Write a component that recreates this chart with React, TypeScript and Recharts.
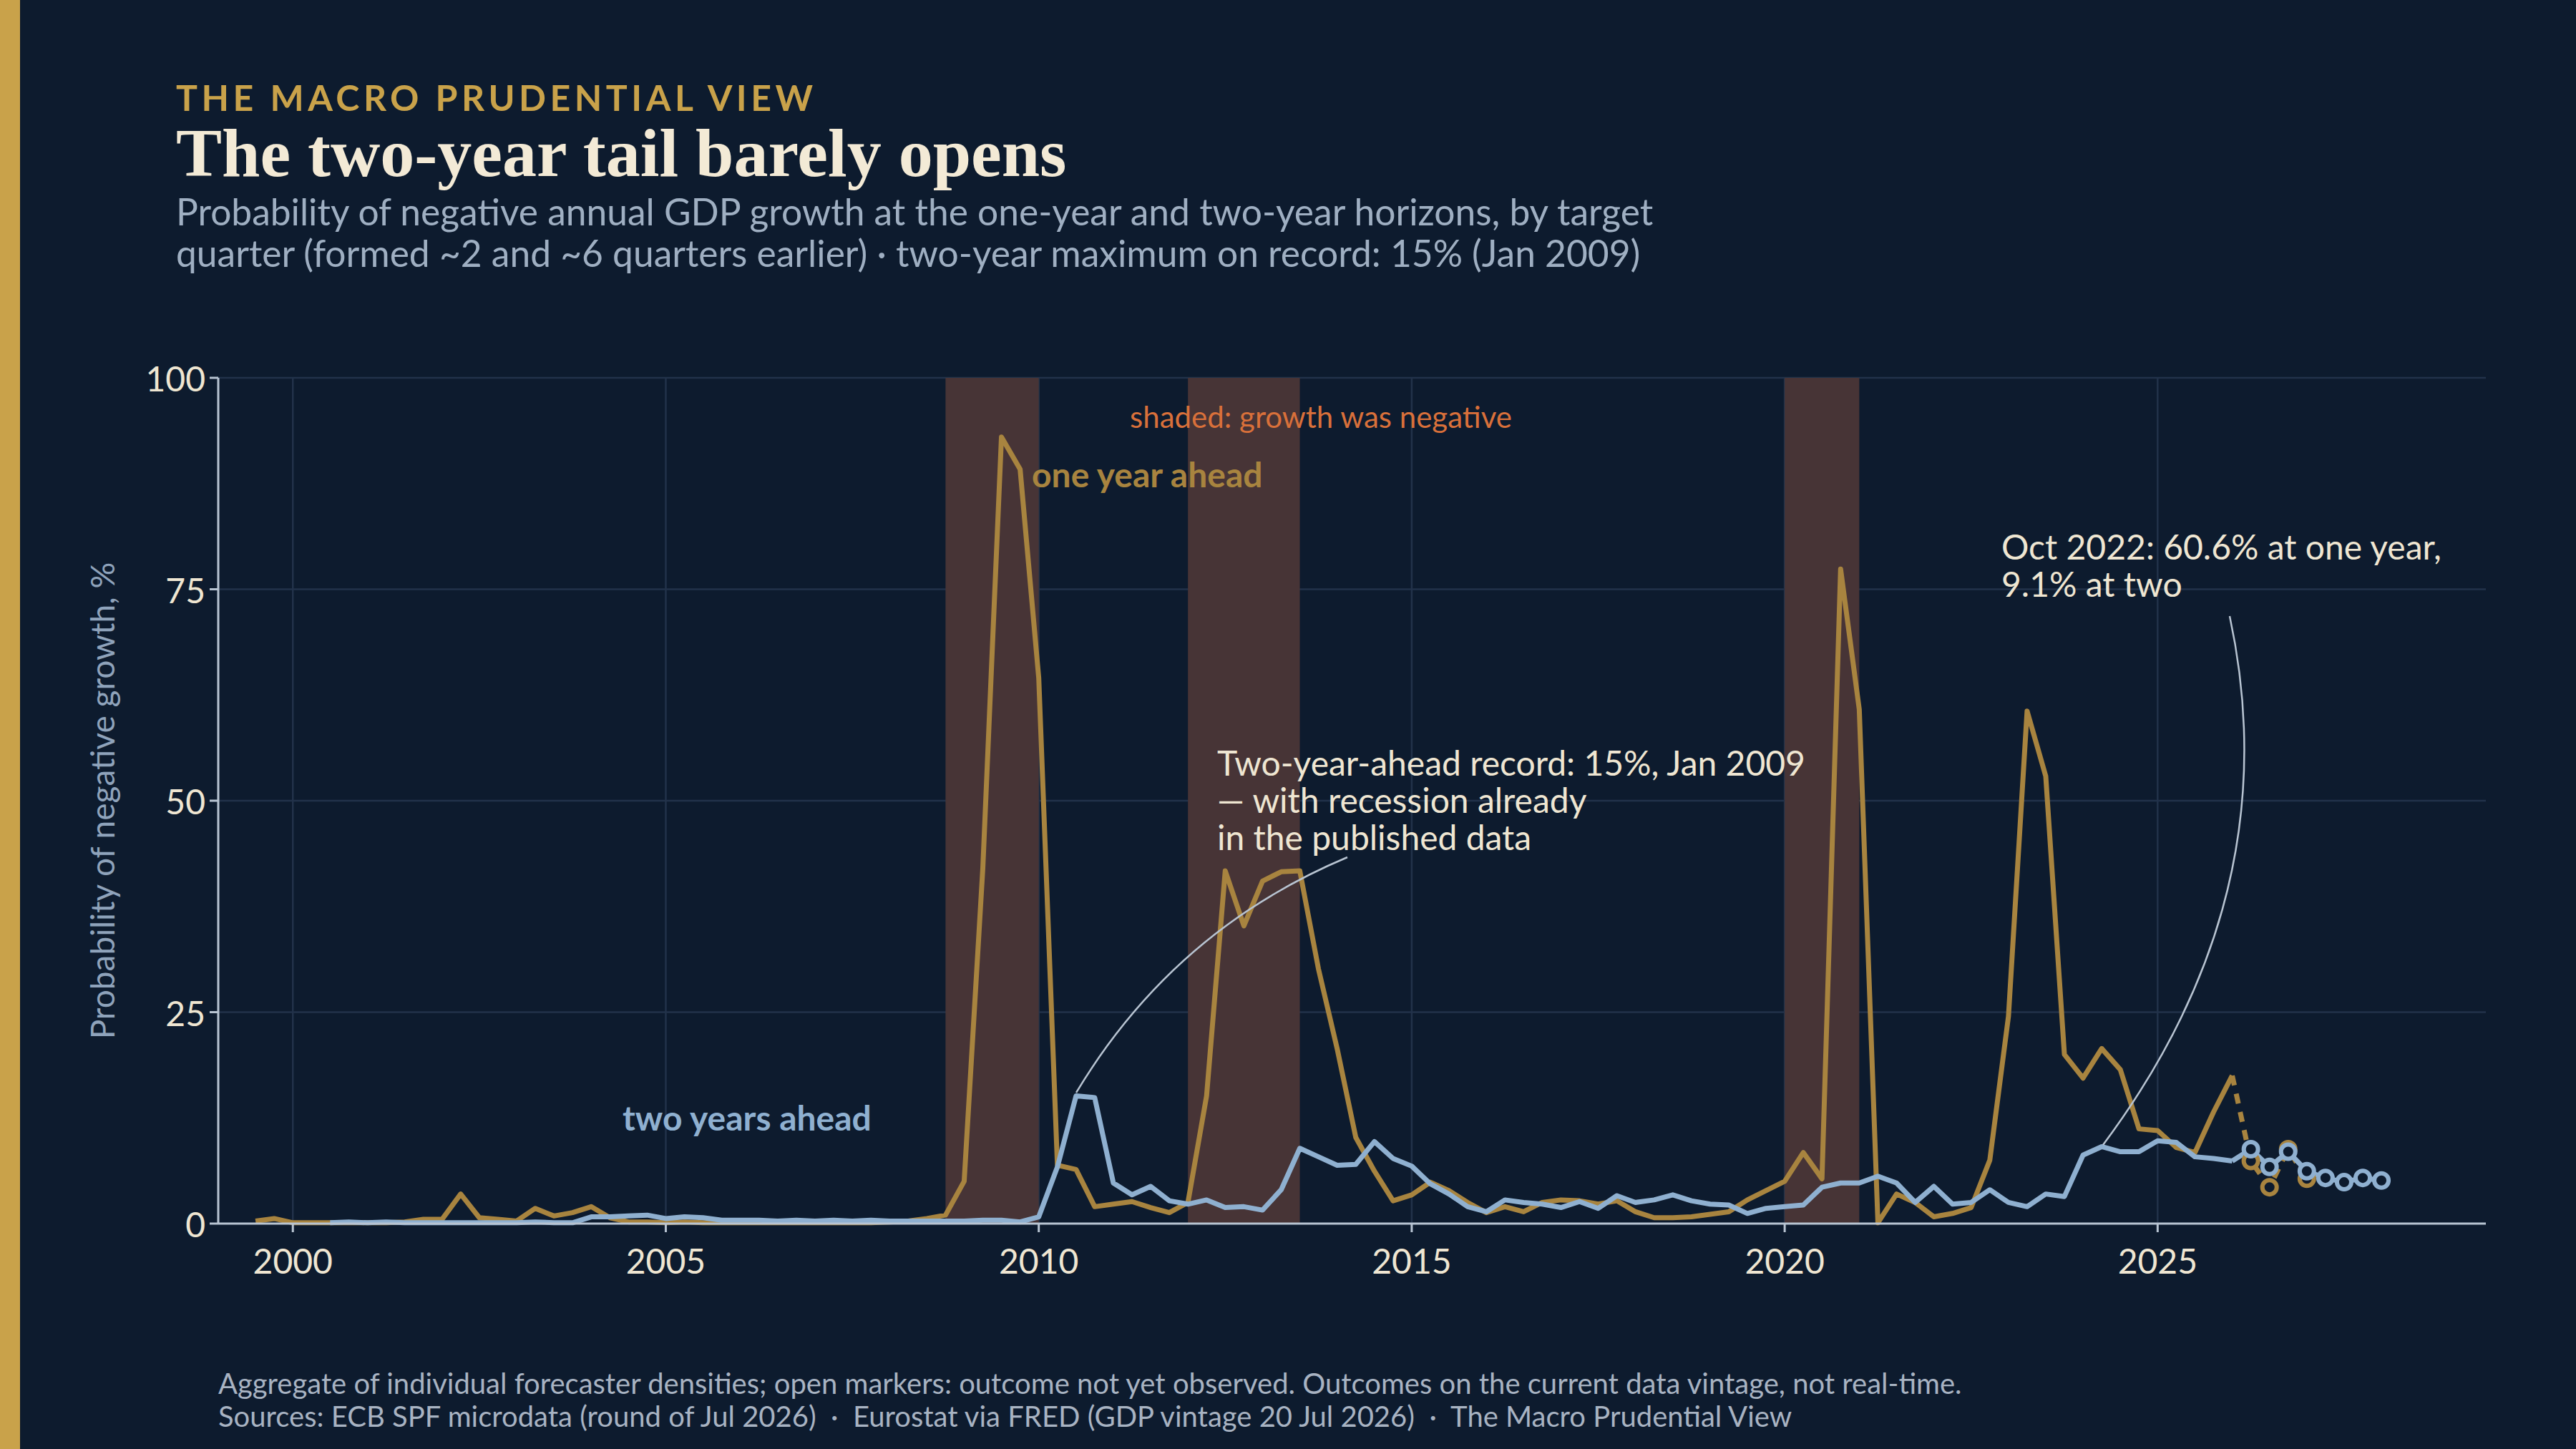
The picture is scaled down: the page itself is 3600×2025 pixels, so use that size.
import React from "react";
import { LineChart, Line, XAxis, YAxis, CartesianGrid, ReferenceArea } from "recharts";

const years = [1999,2000,2001,2002,2003,2004,2005,2006,2007,2008,2009,2010,2011,2012,2013,2014,2015,2016,2017,2018,2019,2020,2021,2022,2023,2024,2025,2026,2027,2028];
const quarterOffsets = [0, 0.25, 0.5, 0.75];

// one year ahead (observed), rows per year Q1..Q4
const oneYearObs: (number | null)[][] = [
  [null,null,0.3,0.6],[0.1,0.1,0.1,0.1],[0.1,0.1,0.2,0.5],[0.5,3.5,0.7,0.5],[0.3,1.8,0.9,1.3],
  [2.0,0.7,0.2,0.2],[0.1,0.2,0.1,0.1],[0.1,0.1,0.1,0.1],[0.1,0.1,0.1,0.1],[0.2,0.3,0.6,1.0],
  [5,42,93,89.2],[64.5,6.9,6.4,2.0],[2.3,2.6,1.9,1.3],[2.5,15.1,41.7,35.2],[40.5,41.6,41.7,30.1],
  [20.7,10.2,6.2,2.7],[3.4,4.9,3.9,2.5],[1.3,2.0,1.4,2.5],[2.8,2.7,2.3,2.7],[1.4,0.7,0.7,0.8],
  [1.1,1.4,2.8,3.9],[5.0,8.4,5.3,77.4],[60.8,0.1,3.5,2.5],[0.8,1.2,1.9,7.5],[24.5,60.6,52.9,20],
  [17.2,20.7,18.2,11.2],[11,9,8.4,13.2],[17.5,null,null,null],[null,null,null,null],[null,null,null,null],
];
// one year ahead, outcome not yet observed
const oneYearFcst: (number | null)[][] = years.map((y) =>
  y === 2026 ? [17.5,7.4,4.3,8.8] : y === 2027 ? [5.3,null,null,null] : [null,null,null,null]
);
// two years ahead (observed)
const twoYearObs: (number | null)[][] = [
  [null,null,null,null],[null,null,0.1,0.2],[0.1,0.2,0.1,0.1],[0.1,0.1,0.1,0.1],[0.1,0.2,0.1,0.1],
  [0.8,0.8,0.9,1.0],[0.6,0.8,0.7,0.4],[0.4,0.4,0.3,0.4],[0.3,0.4,0.3,0.4],[0.3,0.3,0.3,0.3],
  [0.3,0.4,0.4,0.2],[0.8,6.7,15.1,14.9],[4.8,3.4,4.4,2.7],[2.3,2.8,1.9,2.0],[1.6,4.0,8.9,7.9],
  [6.9,7.0,9.7,7.7],[6.8,4.7,3.5,2.0],[1.4,2.8,2.5,2.3],[1.9,2.6,1.8,3.3],[2.5,2.8,3.4,2.7],
  [2.3,2.2,1.2,1.8],[2.0,2.2,4.3,4.8],[4.8,5.6,4.8,2.5],[4.4,2.3,2.5,4.0],[2.5,2.0,3.5,3.2],
  [8.1,9.1,8.5,8.5],[9.8,9.6,7.9,7.7],[7.4,null,null,null],[null,null,null,null],[null,null,null,null],
];
const twoYearFcst: (number | null)[][] = years.map((y) =>
  y === 2026 ? [7.4,8.8,6.7,8.5] : y === 2027 ? [6.2,5.4,4.9,5.4] : y === 2028 ? [5.1,null,null,null] : [null,null,null,null]
);

const recessions = [[2008.75, 2010.0], [2012.0, 2013.5], [2020.0, 2021.0]];
const xTicks = [2000, 2005, 2010, 2015, 2020, 2025];
const yTicks = [0, 25, 50, 75, 100];

const data: any[] = [];
years.forEach((y, yi) => {
  quarterOffsets.forEach((q, qi) => {
    const row = {
      t: y + q,
      one: oneYearObs[yi][qi],
      oneF: oneYearFcst[yi][qi],
      two: twoYearObs[yi][qi],
      twoF: twoYearFcst[yi][qi],
    };
    if (row.one != null || row.oneF != null || row.two != null || row.twoF != null) data.push(row);
  });
});

const BG = "#0d1b2e";
const GOLD = "#a8843f";
const BLUE = "#8fb0d0";
const CREAM = "#efe6d2";
const FONT = "Lato, 'Noto Sans', sans-serif";

const openDot = (color: string) => (p: any) => {
  if (p.payload.t === 2026 || p.value == null) return <g key={p.key} />;
  return <circle key={p.key} cx={p.cx} cy={p.cy} r={10} fill={BG} stroke={color} strokeWidth={6} />;
};

const Annotations = () => (
  <svg width={3600} height={2025} style={{ position: "absolute", left: 0, top: 0, pointerEvents: "none", fontFamily: FONT }}>
    <text x={1846} y={598} textAnchor="middle" fill="#d9703a" fontSize={42}>shaded: growth was negative</text>
    <text x={1442} y={681} fill={GOLD} fontSize={48} fontWeight={700}>one year ahead</text>
    <text x={870} y={1580} fill={BLUE} fontSize={48} fontWeight={700}>two years ahead</text>
    <text x={1701} y={1084} fill={CREAM} fontSize={48}>
      <tspan x={1701} dy={0}>Two-year-ahead record: 15%, Jan 2009</tspan>
      <tspan x={1701} dy={52}>— with recession already</tspan>
      <tspan x={1701} dy={52}>in the published data</tspan>
    </text>
    <path d="M1883,1198 Q1640,1300 1504,1527" fill="none" stroke="#b8c4d2" strokeWidth={2.5} />
    <text x={2797} y={782} fill={CREAM} fontSize={48}>
      <tspan x={2797} dy={0}>Oct 2022: 60.6% at one year,</tspan>
      <tspan x={2797} dy={52}>9.1% at two</tspan>
    </text>
    <path d="M3116,861 Q3200,1250 2939,1600" fill="none" stroke="#b8c4d2" strokeWidth={2.5} />
    <text transform="translate(160,1119) rotate(-90)" textAnchor="middle" fill="#8fa3bb" fontSize={46}>Probability of negative growth, %</text>
  </svg>
);

export default function App() {
  return (
    <div style={{ position: "absolute", left: 0, top: 0, width: 3600, height: 2025, background: BG, fontFamily: FONT, overflow: "hidden" }}>
      <div style={{ position: "absolute", left: 0, top: 0, width: 28, height: 2025, background: "#c9a24a" }} />
      <div style={{ position: "absolute", left: 246, top: 106, fontSize: 50, letterSpacing: 5.5, color: "#c9a24a", fontWeight: 700 }}>THE MACRO PRUDENTIAL VIEW</div>
      <div style={{ position: "absolute", left: 246, top: 158, fontSize: 96, color: "#f3ead6", fontWeight: 700, fontFamily: "'Liberation Serif', serif" }}>The two-year tail barely opens</div>
      <div style={{ position: "absolute", left: 246, top: 266, fontSize: 51.5, color: "#9fafc2", lineHeight: "58px" }}>
        Probability of negative annual GDP growth at the one-year and two-year horizons, by target<br />
        quarter (formed ~2 and ~6 quarters earlier) · two-year maximum on record: 15% (Jan 2009)
      </div>
      <div style={{ position: "absolute", left: 305, top: 1910, fontSize: 40, color: "#a8b3c2", lineHeight: "46px" }}>
        Aggregate of individual forecaster densities; open markers: outcome not yet observed. Outcomes on the current data vintage, not real-time.<br />
        Sources: ECB SPF microdata (round of Jul 2026) &nbsp;·&nbsp; Eurostat via FRED (GDP vintage 20 Jul 2026) &nbsp;·&nbsp; The Macro Prudential View
      </div>
      <div style={{ position: "absolute", left: 0, top: 0 }}>
        <LineChart width={3600} height={2025} data={data} margin={{ left: 185, right: 126, top: 528, bottom: 235 }}>
          <CartesianGrid stroke="#22324a" strokeWidth={2.5} verticalValues={xTicks} horizontalValues={yTicks} />
          {recessions.map(([a, b]) => (
            <ReferenceArea key={a} x1={a} x2={b} y1={0} y2={100} fill="#473436" fillOpacity={1} stroke="none" ifOverflow="visible" />
          ))}
          <XAxis dataKey="t" type="number" domain={[1999.0, 2029.4]} ticks={xTicks} allowDataOverflow height={80}
            stroke="#b8c4d2" strokeWidth={3} tickSize={12} tick={{ fill: CREAM, fontSize: 48, fontFamily: FONT, dy: 22 }} />
          <YAxis type="number" domain={[0, 100]} ticks={yTicks} width={120}
            stroke="#b8c4d2" strokeWidth={3} tickSize={12} tick={{ fill: CREAM, fontSize: 48, fontFamily: FONT, dx: -4, dy: 2 }} />
          <Line dataKey="one" stroke={GOLD} strokeWidth={7} dot={false} isAnimationActive={false} strokeLinejoin="round" />
          <Line dataKey="oneF" stroke={GOLD} strokeWidth={7} strokeDasharray="14 12" dot={openDot(GOLD)} isAnimationActive={false} />
          <Line dataKey="two" stroke={BLUE} strokeWidth={7} dot={false} isAnimationActive={false} strokeLinejoin="round" />
          <Line dataKey="twoF" stroke={BLUE} strokeWidth={7} dot={openDot(BLUE)} isAnimationActive={false} />
        </LineChart>
      </div>
      <Annotations />
    </div>
  );
}
